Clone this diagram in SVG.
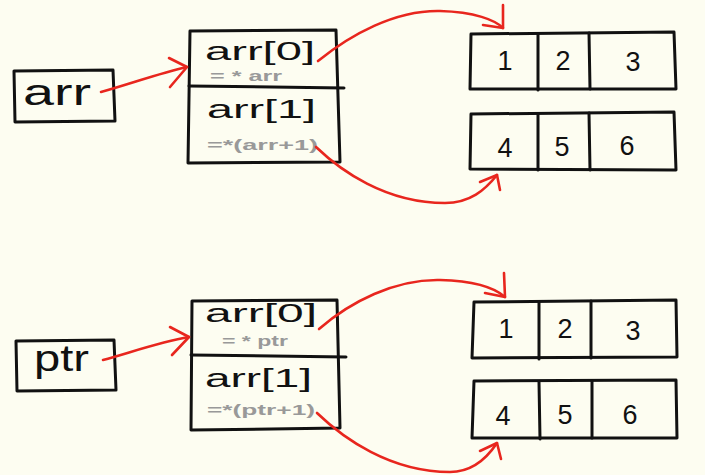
<svg xmlns="http://www.w3.org/2000/svg" width="705" height="475" viewBox="0 0 705 475">
<defs>
<style>
.box{fill:none;stroke:#111;stroke-width:3;stroke-linecap:round;stroke-linejoin:round}
.lbl{font-family:"Liberation Sans","DejaVu Sans",sans-serif;fill:#111}
.big{font-size:36px}
.mid{font-size:26px}
.num{font-size:27px;text-anchor:middle}
.sub{font-family:"Liberation Sans","DejaVu Sans",sans-serif;fill:#999;font-size:15px;font-weight:bold}
.arrow{fill:none;stroke:#E8261E;stroke-width:2.6;stroke-linecap:round;stroke-linejoin:round}
</style>
</defs>
<rect width="705" height="475" fill="#FDFDF1"/>

<!-- top half -->
<g id="var-arr">
<path class="box" d="M14,71 L113,70 L115,121 L15,122 Z"/>
<text class="lbl big" x="23" y="105" textLength="68" lengthAdjust="spacingAndGlyphs">arr</text>
</g>
<g id="rows-top">
<path class="box" d="M190,31 L336,30 L340,162 L188,163 Z"/>
<path class="box" d="M189,86 L344,88"/>
<text class="lbl mid" x="205" y="60" textLength="110" lengthAdjust="spacingAndGlyphs">arr[0]</text>
<text class="sub" x="210" y="81" textLength="72" lengthAdjust="spacingAndGlyphs">= * arr</text>
<text class="lbl mid" x="207" y="118" textLength="109" lengthAdjust="spacingAndGlyphs">arr[1]</text>
<text class="sub" x="207" y="150" textLength="111" lengthAdjust="spacingAndGlyphs">=*(arr+1)</text>
</g>
<g id="row0-top">
<path class="box" d="M471,34 L674,32 L676,89 L470,89 Z"/>
<path class="box" d="M538,34 L538,90 M589,33 L590,89"/>
<text class="lbl num" x="505" y="70">1</text>
<text class="lbl num" x="563" y="70">2</text>
<text class="lbl num" x="633" y="71">3</text>
</g>
<g id="row1-top">
<path class="box" d="M471,114 L674,112 L676,170 L470,169 Z"/>
<path class="box" d="M538,114 L538,170 M589,113 L590,170"/>
<text class="lbl num" x="505" y="157">4</text>
<text class="lbl num" x="562" y="156">5</text>
<text class="lbl num" x="627" y="155">6</text>
</g>

<!-- bottom half -->
<g id="var-ptr">
<path class="box" d="M16,341 L114,340 L116,390 L17,391 Z"/>
<text class="lbl big" x="34" y="371" textLength="55" lengthAdjust="spacingAndGlyphs">ptr</text>
</g>
<g id="rows-bottom">
<path class="box" d="M192,301 L337,300 L340,428 L191,430 Z"/>
<path class="box" d="M191,355 L346,357"/>
<text class="lbl mid" x="205" y="322" textLength="112" lengthAdjust="spacingAndGlyphs">arr[0]</text>
<text class="sub" x="222" y="346" textLength="66" lengthAdjust="spacingAndGlyphs">= * ptr</text>
<text class="lbl mid" x="205" y="387" textLength="107" lengthAdjust="spacingAndGlyphs">arr[1]</text>
<text class="sub" x="207" y="415" textLength="108" lengthAdjust="spacingAndGlyphs">=*(ptr+1)</text>
</g>
<g id="row0-bottom">
<path class="box" d="M474,302 L676,300 L677,357 L472,358 Z"/>
<path class="box" d="M539,302 L539,359 M591,301 L591,358"/>
<text class="lbl num" x="506" y="338">1</text>
<text class="lbl num" x="565" y="338">2</text>
<text class="lbl num" x="633" y="340">3</text>
</g>
<g id="row1-bottom">
<path class="box" d="M474,381 L676,380 L677,438 L472,438 Z"/>
<path class="box" d="M539,382 L540,439 M592,381 L592,438"/>
<text class="lbl num" x="503" y="425">4</text>
<text class="lbl num" x="565" y="424">5</text>
<text class="lbl num" x="630" y="424">6</text>
</g>

<g id="connectors">
<path class="arrow" d="M101,92 C130,84 160,73 187,67"/>
<path class="arrow" d="M169,58 L187,67 L170,87"/>
<path class="arrow" d="M318,61 C350,35 395,10 440,11 C475,12 495,20 503,28"/>
<path class="arrow" d="M483,25 L503,28 L503,5"/>
<path class="arrow" d="M316,147 C340,170 385,203 445,203 C470,203 485,190 497,175"/>
<path class="arrow" d="M480,182 L497,175 L500,190"/>

<path class="arrow" d="M103,360 C132,352 160,342 189,337"/>
<path class="arrow" d="M170,327 L189,337 L172,355"/>
<path class="arrow" d="M319,329 C350,302 395,279 440,280 C475,281 495,288 505,297"/>
<path class="arrow" d="M485,293 L505,297 L504,273"/>
<path class="arrow" d="M317,413 C343,438 390,472 450,472 C473,472 487,458 497,443"/>
<path class="arrow" d="M480,451 L497,443 L501,459"/>
</g>
</svg>
